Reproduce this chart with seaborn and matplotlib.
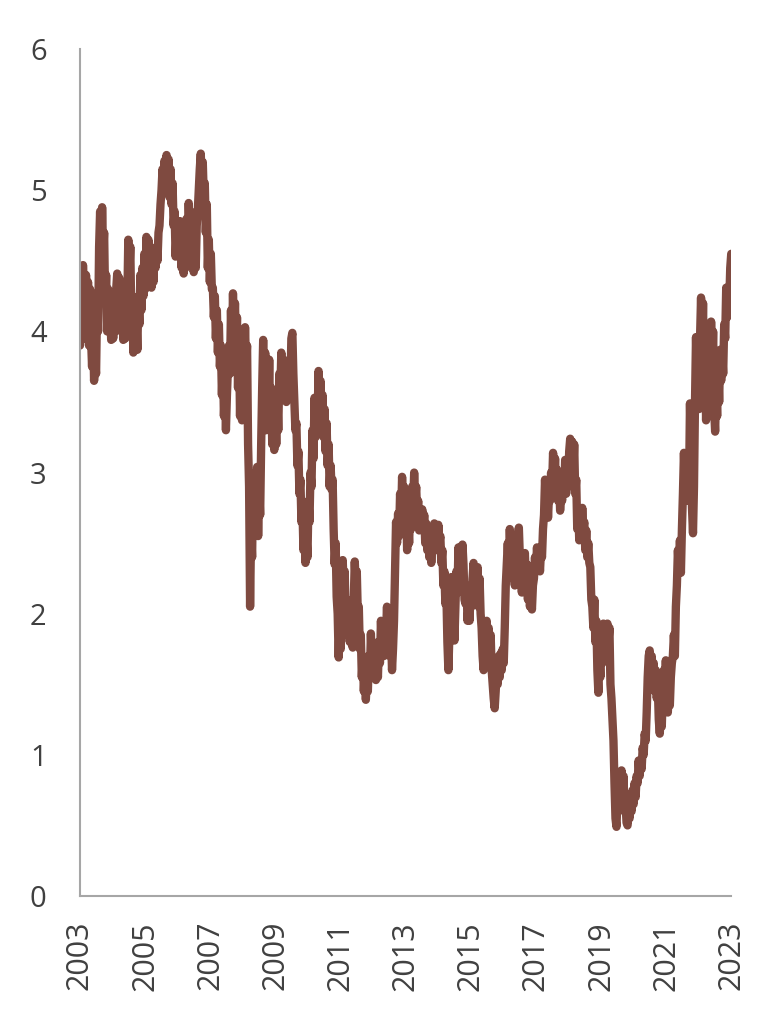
import pandas as pd
import seaborn as sns
import matplotlib
matplotlib.use("Agg")
import matplotlib.pyplot as plt

# values, one per ~11 days from Jan 2003 to end 2022
vals_2003_2007 = [
    3.90, 4.45, 4.10, 4.47, 4.25, 3.95, 4.40, 4.10, 4.35, 3.90, 4.30, 3.95, 3.75, 4.05, 3.65, 3.80, 3.70, 4.20, 4.00, 4.60,
    4.85, 4.40, 4.88, 4.55, 4.70, 4.20, 4.40, 4.00, 4.30, 4.05, 4.15, 3.94, 4.25, 3.95, 4.20, 4.00, 4.30, 4.41, 4.10, 4.38,
    4.15, 4.00, 4.25, 3.94, 4.20, 3.95, 4.35, 4.20, 4.65, 4.40, 4.60, 4.10, 4.25, 3.85, 4.15, 3.90, 4.10, 3.87, 4.25, 4.05,
    4.40, 4.15, 4.45, 4.25, 4.55, 4.30, 4.67, 4.45, 4.65, 4.35, 4.57, 4.31, 4.50, 4.35, 4.55, 4.45, 4.60, 4.50, 4.70, 4.75,
    4.90, 5.00, 5.15, 5.05, 5.21, 5.00, 5.25, 5.10, 5.22, 4.95, 5.15, 4.90, 5.05, 4.75, 4.85, 4.53, 4.70, 4.55, 4.78, 4.60,
    4.78, 4.45, 4.65, 4.41, 4.60, 4.45, 4.80, 4.55, 4.91, 4.70, 4.85, 4.50, 4.65, 4.42, 4.60, 4.45, 4.75, 4.85, 5.00, 5.15,
    5.26, 5.05, 5.20, 4.95, 5.05, 4.70, 4.90, 4.45, 4.65, 4.35, 4.55, 4.30,
]
vals_2007_2010 = [
    4.31, 4.10, 4.25, 3.95, 4.15, 3.85, 4.05, 3.75, 3.90, 3.55, 3.80, 3.40, 3.60, 3.30, 3.55, 3.75, 3.90, 3.70, 4.15, 3.85,
    4.27, 3.95, 4.20, 3.85, 4.10, 3.60, 3.95, 3.40, 3.80, 3.37, 3.85, 3.70, 4.03, 3.75, 3.90, 3.20, 2.90, 2.05, 2.60, 2.40,
    2.95, 2.55, 3.00, 2.65, 3.04, 2.55, 2.90, 2.70, 3.20, 3.60, 3.94, 3.50, 3.85, 3.30, 3.75, 3.40, 3.80, 3.30, 3.60, 3.20,
    3.50, 3.16, 3.45, 3.20, 3.55, 3.30, 3.70, 3.55, 3.85, 3.60, 3.80, 3.55, 3.75, 3.50, 3.70, 3.56, 3.80, 3.60, 3.95, 3.99,
    3.70, 3.50, 3.30, 3.35, 3.05, 3.15, 2.85, 2.95, 2.65, 2.75, 2.45, 2.60, 2.36, 2.55, 2.40, 2.80, 2.65, 3.00, 2.90, 3.30,
    3.10, 3.53, 3.25, 3.50, 3.35, 3.72, 3.45, 3.65, 3.40, 3.55, 3.25, 3.45, 3.15, 3.35, 3.05, 3.20, 2.90, 3.05, 2.88, 2.95,
]
vals_2010_2014 = [
    2.60, 2.35, 2.50, 2.12, 2.00, 1.69, 1.95, 1.75, 2.10, 2.38, 2.20, 2.30, 1.95, 2.10, 1.85, 2.05, 1.80, 2.00, 1.80, 1.76,
    2.10, 2.37, 2.20, 2.30, 2.00, 2.05, 1.75, 1.85, 1.55, 1.70, 1.45, 1.60, 1.39, 1.55, 1.45, 1.70, 1.55, 1.86, 1.65, 1.80,
    1.60, 1.75, 1.53, 1.70, 1.55, 1.80, 1.65, 1.95, 1.75, 1.90, 1.70, 1.95, 1.85, 2.05, 1.80, 1.95, 1.70, 1.85, 1.60, 1.75,
    1.95, 2.30, 2.65, 2.50, 2.71, 2.55, 2.85, 2.65, 2.97, 2.75, 2.90, 2.60, 2.80, 2.45, 2.65, 2.50, 2.75, 2.60, 2.90, 2.75,
    3.00, 2.80, 2.90, 2.70, 2.80, 2.59, 2.70, 2.60, 2.74, 2.60, 2.70, 2.50, 2.64, 2.45, 2.60, 2.40, 2.55, 2.36, 2.50, 2.45,
    2.64, 2.50, 2.60, 2.45, 2.63, 2.50, 2.55, 2.36, 2.45, 2.20, 2.30, 2.07, 2.15, 1.80, 1.60, 1.85, 2.10, 2.26, 1.95, 2.15,
    1.81, 2.05, 2.30, 2.15, 2.47, 2.30, 2.40,
]
vals_2014_2018 = [
    2.30, 2.49, 2.35, 2.10, 2.07, 2.20, 1.95, 2.05, 1.95, 2.15, 2.05, 2.25, 2.36, 2.15, 2.30, 2.10, 2.33, 2.05, 2.25, 2.00,
    1.90, 1.70, 1.60, 1.80, 1.70, 1.95, 1.75, 1.90, 1.72, 1.85, 1.60, 1.50, 1.40, 1.33, 1.45, 1.60, 1.50, 1.70, 1.55, 1.72,
    1.60, 1.75, 1.65, 1.90, 2.20, 2.35, 2.50, 2.30, 2.60, 2.40, 2.50, 2.25, 2.35, 2.20, 2.50, 2.30, 2.55, 2.61, 2.40, 2.30,
    2.15, 2.35, 2.20, 2.43, 2.20, 2.35, 2.10, 2.25, 2.05, 2.15, 2.03, 2.20, 2.25, 2.40, 2.30, 2.47, 2.35, 2.45, 2.30, 2.45,
    2.40, 2.60, 2.70, 2.95, 2.75, 2.90, 2.68, 2.85, 2.80, 3.00, 2.90, 3.14, 2.95, 3.10, 2.85, 3.02, 2.80, 2.95, 2.73, 2.85,
    2.80, 3.00, 2.85, 3.09, 2.85, 3.00, 2.90, 3.15, 3.24, 3.05, 3.22, 3.00, 3.20, 2.85, 2.95, 2.60, 2.75, 2.52, 2.65, 2.55,
    2.75, 2.60, 2.65, 2.45, 2.59, 2.40, 2.50, 2.36,
]
vals_2018_2021 = [
    2.33, 2.10, 2.05, 1.90, 2.10, 1.80, 1.95, 1.60, 1.44, 1.70, 1.55, 1.85, 1.65, 1.93, 1.70, 1.90, 1.67, 1.93, 1.80, 1.90,
    1.50, 1.40, 1.25, 1.10, 0.80, 0.55, 0.49, 0.70, 0.60, 0.80, 0.65, 0.89, 0.70, 0.85, 0.60, 0.65, 0.52, 0.50, 0.60, 0.55,
    0.65, 0.60, 0.75, 0.65, 0.80, 0.70, 0.85, 0.80, 0.96, 0.85, 0.95, 0.90, 1.05, 1.00, 1.15, 1.10, 1.30, 1.55, 1.70, 1.74,
    1.60, 1.70, 1.55, 1.65, 1.45, 1.60, 1.40, 1.50, 1.25, 1.15, 1.30,
]
vals_2021_2023 = [
    1.20, 1.45, 1.60, 1.40, 1.67, 1.40, 1.30, 1.45, 1.35, 1.55, 1.65, 1.70, 1.85, 1.70, 2.05,
    2.20, 2.45, 2.30, 2.52, 2.29, 2.60, 2.85, 3.14, 2.90, 3.05, 2.80, 3.00, 2.85, 3.49, 3.10,
    2.75, 2.57, 2.90, 3.50, 3.96, 3.60, 3.90, 3.45, 3.95, 4.24, 3.80, 4.20, 3.50, 3.90, 3.37,
    3.70, 3.40, 3.80, 3.60, 4.07, 3.70, 4.00, 3.45, 3.29, 3.60, 3.40, 3.75, 3.50, 3.87, 3.65,
    3.85, 3.70, 4.05, 3.95, 4.31, 4.10, 4.30, 4.20, 4.45, 4.55,
]

tick_years = [2003, 2005, 2007, 2009, 2011, 2013, 2015, 2017, 2019, 2021, 2023]

values = (vals_2003_2007 + vals_2007_2010 + vals_2010_2014 +
          vals_2014_2018 + vals_2018_2021 + vals_2021_2023)
dates = pd.date_range("2003-01-01", "2022-12-31", periods=len(values))
df = pd.DataFrame({"date": dates, "value": values})

sns.set_style("white")
plt.rcParams["font.family"] = ["Open Sans", "DejaVu Sans"]

fig = plt.figure(figsize=(7.81, 10.24), dpi=100)
ax = fig.add_axes([0.1024, 0.125, 0.834, 0.827])

sns.lineplot(data=df, x="date", y="value", ax=ax, color="#7f4a40",
             linewidth=6.0, solid_capstyle="round", solid_joinstyle="round")

ax.set_ylim(0, 6)
ax.set_xlim(pd.Timestamp("2003-01-01"), pd.Timestamp("2023-01-01"))
ax.set_yticks(range(0, 7))
ticks = pd.to_datetime([f"{y}-01-01" for y in tick_years])
ax.set_xticks(ticks)
ax.set_xticklabels([str(y) for y in tick_years], rotation=90)
ax.set_xlabel("")
ax.set_ylabel("")

for s in ["top", "right"]:
    ax.spines[s].set_visible(False)
for s in ["left", "bottom"]:
    ax.spines[s].set_color("#a6a6a6")
    ax.spines[s].set_linewidth(1.5)

ax.tick_params(axis="y", length=0, pad=24, labelsize=21, labelcolor="#404040")
ax.tick_params(axis="x", length=0, pad=18, labelsize=22, labelcolor="#404040")

fig.savefig("out.png", dpi=100)
